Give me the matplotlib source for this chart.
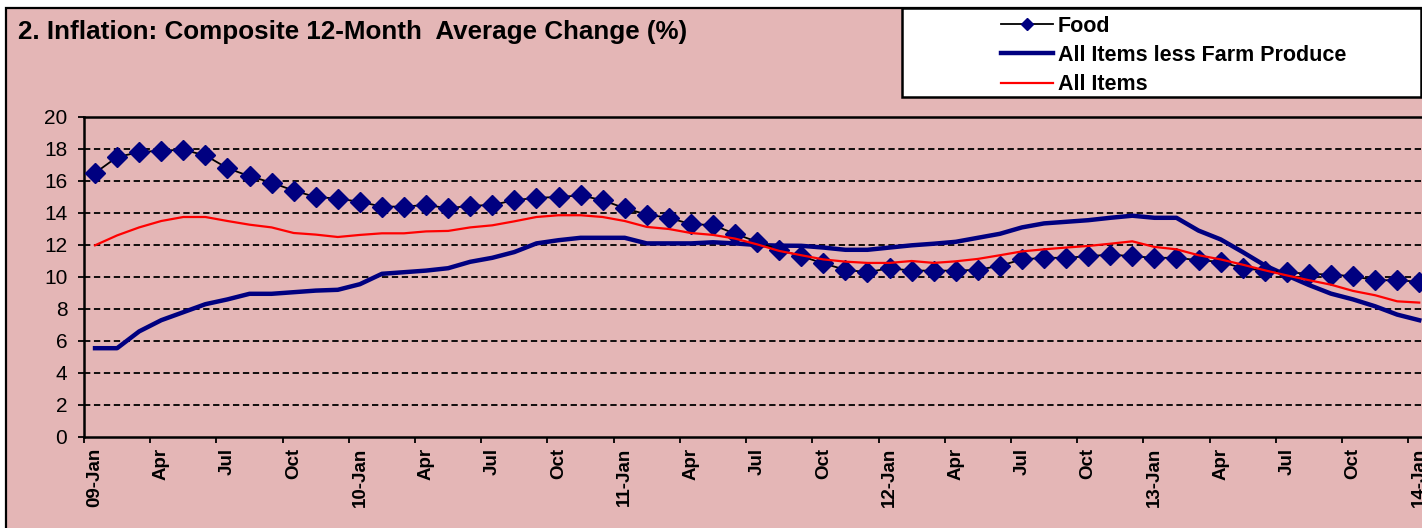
import matplotlib
matplotlib.use("Agg")
import matplotlib.pyplot as plt
from matplotlib.patches import Rectangle
from matplotlib.lines import Line2D
import numpy as np

plt.rcParams['font.family'] = ['Liberation Sans', 'DejaVu Sans']

# ---- data (monthly, Jan 2009 .. Jan 2014) ----
months = ["Jan", "Feb", "Mar", "Apr", "May", "Jun", "Jul", "Aug", "Sep", "Oct", "Nov", "Dec"]
years = ["09", "10", "11", "12", "13", "14"]

food = [16.5, 17.5, 17.8, 17.9, 17.95, 17.6, 16.8, 16.3, 15.9, 15.4, 15.0, 14.9,
        14.7, 14.4, 14.4, 14.5, 14.3, 14.45, 14.5, 14.8, 14.95, 15.0, 15.1, 14.8,
        14.3, 13.9, 13.7, 13.3, 13.25, 12.7, 12.2, 11.7, 11.3, 10.85, 10.45, 10.3,
        10.55, 10.4, 10.4, 10.4, 10.45, 10.7, 11.1, 11.2, 11.2, 11.3, 11.4, 11.3,
        11.2, 11.2, 11.05, 10.95, 10.55, 10.4, 10.3, 10.2, 10.15, 10.05, 9.8, 9.8, 9.7]

less_farm = [5.55, 5.55, 6.6, 7.3, 7.8, 8.3, 8.6, 8.95, 8.95, 9.05, 9.15, 9.2,
             9.55, 10.2, 10.3, 10.4, 10.55, 10.95, 11.2, 11.56, 12.1, 12.3, 12.45, 12.45,
             12.45, 12.1, 12.1, 12.1, 12.17, 12.1, 12.0, 11.96, 11.95, 11.84, 11.7, 11.7,
             11.84, 11.98, 12.08, 12.2, 12.45, 12.7, 13.1, 13.35, 13.45, 13.55, 13.7, 13.83,
             13.7, 13.7, 12.9, 12.35, 11.56, 10.73, 10.1, 9.5, 8.96, 8.6, 8.17, 7.65, 7.3]

all_items = [11.98, 12.6, 13.1, 13.5, 13.75, 13.75, 13.5, 13.27, 13.1, 12.75, 12.65, 12.5,
             12.63, 12.73, 12.73, 12.85, 12.88, 13.1, 13.23, 13.48, 13.75, 13.86, 13.86, 13.75,
             13.5, 13.13, 13.0, 12.75, 12.63, 12.4, 12.04, 11.63, 11.36, 11.1, 10.96, 10.88,
             10.88, 11.0, 10.88, 10.98, 11.13, 11.36, 11.6, 11.73, 11.84, 11.94, 12.08, 12.23,
             11.88, 11.73, 11.36, 11.1, 10.77, 10.42, 10.1, 9.8, 9.52, 9.13, 8.86, 8.48, 8.4]

# category labels, one per month
labels = []
for y in years:
    for m in months:
        labels.append(f"{y}-{m}" if m == "Jan" else m)
labels = labels[:len(food)]

y_ticks = list(range(0, 21, 2))

# ---- figure ----
W, H = 1422, 528
fig = plt.figure(figsize=(W / 100, H / 100), dpi=100, facecolor="white")

pink = "#E4B6B6"
bg = Rectangle((6 / W, -0.05), 1.2, (H - 8) / H + 0.05, transform=fig.transFigure,
               facecolor=pink, edgecolor="black", linewidth=1.6, zorder=0)
fig.patches.append(bg)

n = len(food)
ax = fig.add_axes([84 / W, (H - 437) / H, (n * 22.07) / W, 320 / H])
ax.set_zorder(2)
ax.patch.set_alpha(0)

x = np.arange(n)
ax.plot(x, less_farm, color="#000080", linewidth=3.2, zorder=3, solid_joinstyle="round")
ax.plot(x, food, color="black", linewidth=1.3, marker="D", markersize=10,
        markerfacecolor="#000080", markeredgecolor="#000080", zorder=4)
ax.plot(x, all_items, color="red", linewidth=1.6, zorder=5)

ax.set_xlim(-0.5, n - 0.5)
ax.set_ylim(0, 20)
ax.set_yticks(y_ticks)
ax.set_yticklabels([str(v) for v in y_ticks], fontsize=15)

for v in y_ticks[1:-1]:
    ax.axhline(v, color="black", linewidth=1.3, linestyle=(0, (3.5, 2)), zorder=1)

lab_pos = x[::3]
ax.set_xticks(lab_pos)
ax.set_xticklabels([labels[i] for i in lab_pos], rotation=90, fontsize=13.5,
                   fontweight="bold", va="top", ha="center")
ax.set_xticks(np.arange(-0.5, n, 3), minor=True)
ax.tick_params(axis="x", which="major", length=0, pad=8)
ax.tick_params(axis="x", which="minor", length=4, width=1.3, direction="out")
ax.tick_params(axis="y", length=4, width=1.3, direction="out", pad=8)

for s in ["left", "bottom", "top"]:
    ax.spines[s].set_linewidth(1.8)
    ax.spines[s].set_color("black")
ax.spines["right"].set_visible(False)

fig.text(18 / W, 1 - 32 / H, "2. Inflation: Composite 12-Month  Average Change (%)",
         fontsize=18.7, fontweight="bold", va="center", ha="left")

# legend box
lb = Rectangle((902 / W, 1 - 97 / H), (1421 - 902) / W, 89 / H, transform=fig.transFigure,
               facecolor="white", edgecolor="black", linewidth=1.8, zorder=6)
fig.patches.append(lb)
handles = [
    Line2D([], [], color="black", linewidth=1.3, marker="D", markersize=6,
           markerfacecolor="#000080", markeredgecolor="#000080"),
    Line2D([], [], color="#000080", linewidth=3.2),
    Line2D([], [], color="red", linewidth=1.6),
]
leg = fig.legend(handles, ["Food", "All Items less Farm Produce", "All Items"],
                 loc="center left", bbox_to_anchor=(1001 / W, 1 - 55.5 / H),
                 frameon=False, prop={"weight": "bold", "size": 15.5},
                 handlelength=2.4, handletextpad=0.23, labelspacing=0.38,
                 borderpad=0, borderaxespad=0, numpoints=1)
leg.set_zorder(7)

fig.savefig("out.png", dpi=100, facecolor="white")
